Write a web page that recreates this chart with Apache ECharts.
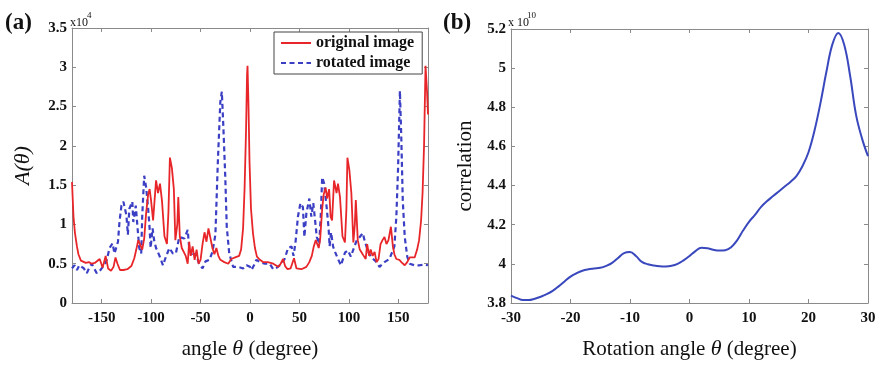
<!DOCTYPE html>
<html>
<head>
<meta charset="utf-8">
<script src="https://cdn.jsdelivr.net/npm/echarts@6.0.0/dist/echarts.min.js"></script>
<style>
html,body{margin:0;padding:0;background:#fff;}
#chart{width:880px;height:366px;}
</style>
</head>
<body>
<div id="chart"></div>
<script>
// ---- Panel (a): A(theta), units of 10^4 ----
const redAngles = [-180,-178.5,-177,-175,-173.5,-171,-169,-166,-163,-160,-157,-155,-152,-149,-146,-143.5,-140.5,-138,-136,-134,-131.5,-128,-124,-120,-117,-115,-113,-111,-109,-107,-105,-103,-101.5,-100,-98,-95,-93,-91,-89,-86.5,-84,-82.5,-81,-79,-77,-75.5,-73.5,-72.5,-71,-69,-67,-65,-63,-61.5,-60,-58,-56,-54,-52,-50,-48,-46,-44,-42,-40,-38,-36,-34,-32,-30,-26,-22,-19,-15,-11,-9,-7,-5.5,-4,-3,-2.5,-1.5,-0.5,1,3,5,7,10,13.5,18,23.5,28.5,31,33.5,35.5,38,41,44.5,47,52,57,60,62.5,64.5,66.5,68,69.5,71,73,74.5,76.5,78,80,81.5,83,85,87.5,89,91,93.5,96,97.5,98.5,100.5,102.5,104.5,106,107,109,111,113,115,117,118.5,120.5,122,124,126,128,130,132,134,136,138,140,142.5,144.5,146,148,151,153,156.5,159,161.5,166.5,169,171,173,174.5,176,177.5,179,180];
const redValues = [1.54,1.1,0.89,0.72,0.62,0.54,0.52,0.51,0.52,0.5,0.51,0.49,0.56,0.45,0.6,0.44,0.41,0.46,0.58,0.5,0.42,0.42,0.43,0.47,0.57,0.68,0.8,0.8,0.68,0.82,1.15,1.38,1.45,1.3,1.05,1.56,1.4,1.52,1.3,0.85,0.75,1.15,1.85,1.72,1.45,0.8,1.0,1.35,0.85,0.7,0.65,0.6,0.5,0.78,0.6,0.72,0.55,0.68,0.5,0.55,0.75,0.9,0.78,0.95,0.97,0.7,0.62,0.7,0.6,0.55,0.52,0.5,0.56,0.58,0.6,0.68,0.95,1.45,2.2,2.9,3.02,2.5,1.8,1.2,0.89,0.7,0.59,0.55,0.52,0.52,0.5,0.46,0.5,0.56,0.47,0.43,0.44,0.57,0.44,0.43,0.46,0.52,0.6,0.72,0.8,0.78,0.7,0.82,1.2,1.38,1.47,1.33,1.45,1.1,1.05,1.56,1.4,1.52,1.35,0.85,0.77,1.2,1.85,1.69,1.4,0.77,1.0,1.31,0.8,0.68,0.64,0.6,0.56,0.75,0.6,0.68,0.6,0.65,0.52,0.56,0.75,0.8,0.84,0.75,0.8,0.97,0.72,0.62,0.56,0.55,0.52,0.48,0.52,0.58,0.58,0.68,0.8,1.05,1.4,2.0,3.02,2.7,2.4];
const blueAngles = [-180,-177.5,-175,-172.5,-170.5,-168,-165,-162.5,-160,-157.5,-155,-152.5,-150,-147.5,-145,-142,-139,-137,-133.5,-132,-130,-128,-126.5,-125,-123.5,-122,-119,-118,-115.5,-114,-112,-110,-109,-107,-105,-103,-101.5,-100.5,-98.5,-97,-95,-91.5,-88,-85,-81.5,-78,-75,-71.5,-66.5,-63,-61.5,-58,-55,-51.5,-48,-45,-41,-38,-35,-32.5,-30,-28.5,-27,-25,-23.5,-21,-17,-12,-7,-3.5,0,1.5,4,6.5,10,15,20,23.5,27,30,35,38.5,42,44,46,48.5,51,53.5,55,57,60,62,64,66,67.5,70,71.5,73,75,77.5,79.5,80.5,82,84,86,89,92,96,99,102,105,108,111,114,116,119,122,128,131,136,141,146,148,149.7,151.6,153,154.5,156.5,159,161.5,166.5,171.5,176.5,180];
const blueValues = [0.44,0.48,0.42,0.48,0.5,0.44,0.38,0.45,0.5,0.44,0.38,0.4,0.44,0.48,0.54,0.7,0.76,0.63,0.78,1.03,1.24,1.29,1.2,1.12,0.87,1.2,1.29,1.03,1.24,1.0,0.7,0.63,1.1,1.62,1.47,1.2,0.95,0.7,0.95,0.8,0.7,0.6,0.48,0.59,0.7,0.63,0.63,0.84,0.82,0.93,0.7,0.59,0.63,0.5,0.44,0.53,0.55,0.65,0.87,1.8,2.56,2.69,2.26,1.6,0.97,0.63,0.46,0.46,0.44,0.48,0.46,0.42,0.48,0.55,0.52,0.5,0.5,0.43,0.45,0.48,0.56,0.7,0.72,0.6,0.77,1.1,1.27,1.22,0.84,1.14,1.33,1.1,1.27,1.03,0.84,0.75,1.1,1.6,1.52,1.22,0.95,0.72,0.9,0.72,0.65,0.56,0.48,0.64,0.67,0.59,0.7,0.8,0.84,0.89,0.79,0.67,0.59,0.52,0.46,0.52,0.56,0.72,1.1,1.7,2.7,2.1,1.3,0.84,0.59,0.5,0.48,0.48,0.49,0.48];
const angleTicks = [-150,-100,-50,0,50,100,150];

// ---- Panel (b): correlation, units of 10^10 ----
const rotAngles = [-30,-29,-28,-27,-26,-25,-24,-23,-22,-21,-20,-19,-18,-17,-16,-15,-14,-13,-12,-11,-10,-9,-8,-7,-6,-5,-4,-3,-2,-1,0,1,2,3,4,5,6,7,8,9,10,11,12,13,14,15,16,17,18,19,20,21,22,23,24,25,26,27,28,29,30];
const corrValues = [3.838,3.825,3.815,3.815,3.822,3.832,3.845,3.862,3.885,3.91,3.935,3.952,3.965,3.972,3.976,3.98,3.99,4.005,4.03,4.055,4.06,4.04,4.01,3.998,3.992,3.988,3.987,3.99,4.0,4.018,4.04,4.065,4.082,4.08,4.072,4.068,4.07,4.085,4.12,4.17,4.215,4.25,4.29,4.32,4.345,4.37,4.395,4.42,4.45,4.5,4.57,4.68,4.82,4.98,5.12,5.18,5.12,4.96,4.76,4.64,4.55];

const SERIF = 'Liberation Serif';
const AX = '#8a8a8a';
const labelStyle = {fontFamily: SERIF, fontWeight: 'bold', fontSize: 15, color: '#111'};
const pair = (xs, ys) => xs.map((x, i) => [x, ys[i]]);

function frameAxis(extra) {
  return Object.assign({
    type: 'value',
    axisLine: {show: true, onZero: false, lineStyle: {color: AX, width: 1}},
    axisTick: {show: true, inside: true, length: 4, lineStyle: {color: AX}},
    splitLine: {show: false},
    axisLabel: {show: false}
  }, extra);
}

const chart = echarts.init(document.getElementById('chart'), null, {renderer: 'canvas'});
chart.setOption({
  animation: false,
  backgroundColor: '#fff',
  grid: [
    {left: 72, top: 28, width: 356, height: 275},
    {left: 511, top: 29, width: 357, height: 274}
  ],
  legend: {
    data: ['original image', 'rotated image'],
    orient: 'vertical',
    left: 274, top: 32,
    itemWidth: 30, itemHeight: 14, itemGap: 4,
    padding: [3, 8, 3, 6],
    borderColor: '#444', borderWidth: 1,
    backgroundColor: '#fff',
    itemStyle: {opacity: 0},
    textStyle: {fontFamily: SERIF, fontWeight: 'bold', fontSize: 16, color: '#111'}
  },
  xAxis: [
    frameAxis({gridIndex: 0, min: -180, max: 180, position: 'bottom',
      axisTick: {show: true, inside: true, length: 4, lineStyle: {color: AX}, customValues: angleTicks},
      axisLabel: Object.assign({show: true, margin: 8, customValues: angleTicks}, labelStyle),
      name: '{n|angle }{t|θ}{n| (degree)}', nameLocation: 'middle', nameGap: 35,
      nameTextStyle: {rich: {n: {fontFamily: SERIF, fontSize: 21, color: '#111'}, t: {fontFamily: SERIF, fontStyle: 'italic', fontSize: 22, color: '#111'}}}
    }),
    frameAxis({gridIndex: 0, min: -180, max: 180, position: 'top',
      axisTick: {show: true, inside: true, length: 4, lineStyle: {color: AX}, customValues: angleTicks}}),
    frameAxis({gridIndex: 1, min: -30, max: 30, interval: 10, position: 'bottom',
      axisLabel: Object.assign({show: true, margin: 8}, labelStyle),
      name: '{n|Rotation angle }{t|θ}{n| (degree)}', nameLocation: 'middle', nameGap: 35,
      nameTextStyle: {rich: {n: {fontFamily: SERIF, fontSize: 21, color: '#111'}, t: {fontFamily: SERIF, fontStyle: 'italic', fontSize: 22, color: '#111'}}}
    }),
    frameAxis({gridIndex: 1, min: -30, max: 30, interval: 10, position: 'top'})
  ],
  yAxis: [
    frameAxis({gridIndex: 0, min: 0, max: 3.5, interval: 0.5, position: 'left',
      axisLabel: Object.assign({show: true, margin: 5}, labelStyle),
      name: 'A(θ)', nameLocation: 'middle', nameGap: 38,
      nameTextStyle: {fontFamily: SERIF, fontStyle: 'italic', fontSize: 22, color: '#111'}
    }),
    frameAxis({gridIndex: 0, min: 0, max: 3.5, interval: 0.5, position: 'right'}),
    frameAxis({gridIndex: 1, min: 3.8, max: 5.2, interval: 0.2, position: 'left',
      axisLabel: Object.assign({show: true, margin: 5, formatter: v => String(parseFloat(v.toFixed(1)))}, labelStyle),
      name: 'correlation', nameLocation: 'middle', nameGap: 35,
      nameTextStyle: {fontFamily: SERIF, fontSize: 21, color: '#111'}
    }),
    frameAxis({gridIndex: 1, min: 3.8, max: 5.2, interval: 0.2, position: 'right'})
  ],
  series: [
    {name: 'original image', type: 'line', xAxisIndex: 0, yAxisIndex: 0,
      data: pair(redAngles, redValues), showSymbol: false, symbol: 'none',
      lineStyle: {color: '#e8262a', width: 1.8}, itemStyle: {color: '#e8262a'}, z: 3},
    {name: 'rotated image', type: 'line', xAxisIndex: 0, yAxisIndex: 0,
      data: pair(blueAngles, blueValues), showSymbol: false, symbol: 'none',
      lineStyle: {color: '#3b3fc4', width: 2.2, type: [5, 3.5]}, itemStyle: {color: '#3b3fc4'}, z: 2},
    {name: 'correlation', type: 'line', xAxisIndex: 2, yAxisIndex: 2,
      data: pair(rotAngles, corrValues), showSymbol: false, symbol: 'none', smooth: 0.4,
      lineStyle: {color: '#3a48bd', width: 2}, itemStyle: {color: '#3a48bd'}}
  ],
  graphic: [
    {type: 'text', left: 5, top: 12, style: {text: '(a)', fontFamily: SERIF, fontWeight: 'bold', fontSize: 23, fill: '#111'}},
    {type: 'text', left: 443, top: 12, style: {text: '(b)', fontFamily: SERIF, fontWeight: 'bold', fontSize: 23, fill: '#111'}},
    {type: 'text', left: 70, top: 17, style: {text: 'x10', fontFamily: SERIF, fontSize: 12, fill: '#111'}},
    {type: 'text', left: 87, top: 11, style: {text: '4', fontFamily: SERIF, fontSize: 9, fill: '#111'}},
    {type: 'text', left: 508, top: 17, style: {text: 'x 10', fontFamily: SERIF, fontSize: 12, fill: '#111'}},
    {type: 'text', left: 527, top: 11, style: {text: '10', fontFamily: SERIF, fontSize: 9, fill: '#111'}}
  ]
});
</script>
</body>
</html>
